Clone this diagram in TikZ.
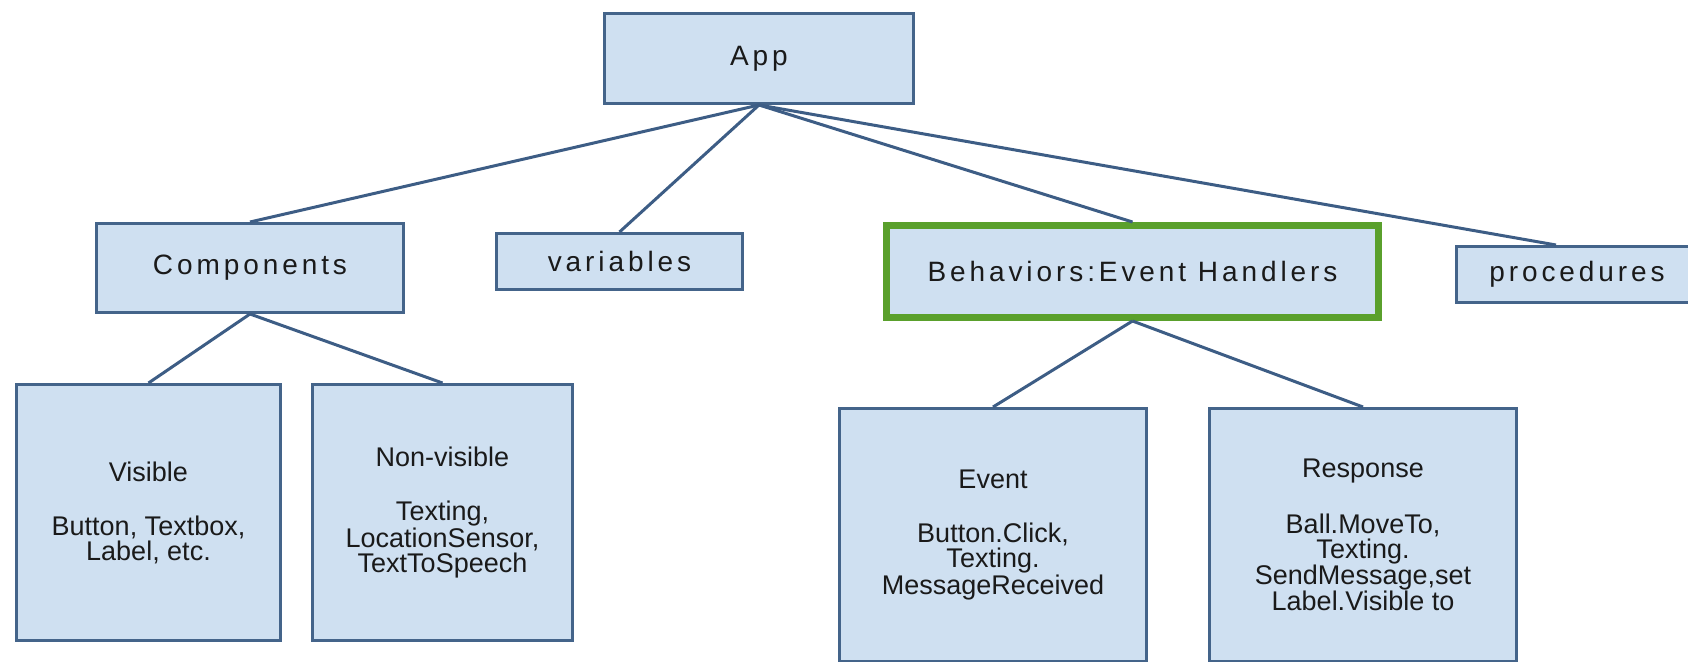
\documentclass[tikz,border=0pt]{standalone}
\usepackage{fontspec}
\setmainfont{Liberation Sans}
\newfontfamily\headfont[LetterSpace=14]{Liberation Sans}
\definecolor{boxfill}{HTML}{CFE0F1}
\definecolor{boxline}{HTML}{44648A}
\definecolor{wire}{HTML}{3D5D85}
\definecolor{hilite}{HTML}{5AA02C}
\definecolor{ink}{HTML}{1A1A1A}
\begin{document}
\begin{tikzpicture}[x=1pt,y=-1pt]
    % Define the styles for the boxes and the lines
    \tikzset{box/.style={rectangle, draw=boxline, fill=boxfill, line width=3pt, inner sep=0pt, align=center, text=ink}}
    \tikzset{head/.style={box, font=\headfont\fontsize{28}{28}\selectfont}}
    \tikzset{leaf/.style={box, font=\fontsize{27}{25}\selectfont}}
    \tikzset{line/.style={draw=wire, line width=3pt}}

    \clip (0,0) rectangle (1688,661);

    % Top of the tree
    \node[head, minimum width=309pt, minimum height=90pt] (app) at (759,58.5) {App};

    % Second row
    \node[head, minimum width=307pt, minimum height=89pt] (comp) at (250,268) {Components};
    \node[head, minimum width=246pt, minimum height=56pt] (vars) at (619.5,261.5) {variables};
    \node[head, draw=hilite, line width=7pt, minimum width=492pt, minimum height=92pt] (behav) at (1132.5,271.5) {Behaviors:Event Handlers};
    \node[head, minimum width=241pt, minimum height=56pt] (proc) at (1577,274.5) {procedures};

    % Third row
    \node[leaf, minimum width=264pt, minimum height=256pt] (vis) at (148.5,512.5) {Visible\\[29pt]Button, Textbox,\\Label, etc.};
    \node[leaf, minimum width=260pt, minimum height=256pt] (nonvis) at (442.5,512.5) {Non-visible\\[29pt]Texting,\\LocationSensor,\\TextToSpeech};
    \node[leaf, minimum width=307pt, minimum height=253pt] (event) at (993,535) {Event\\[29pt]Button.Click,\\Texting.\\MessageReceived};
    \node[leaf, minimum width=307pt, minimum height=253pt] (resp) at (1363,535) {Response\\[29pt]Ball.MoveTo,\\Texting.\\SendMessage,set\\Label.Visible to};

    % Connect the boxes
    \draw[line] (app.south) -- (comp.north);
    \draw[line] (app.south) -- (vars.north);
    \draw[line] (app.south) -- (behav.north);
    \draw[line] (app.south) -- ([xshift=-21pt]proc.north);
    \draw[line] (comp.south) -- (vis.north);
    \draw[line] (comp.south) -- (nonvis.north);
    \draw[line] (behav.south) -- (event.north);
    \draw[line] (behav.south) -- (resp.north);

\end{tikzpicture}
\end{document}
